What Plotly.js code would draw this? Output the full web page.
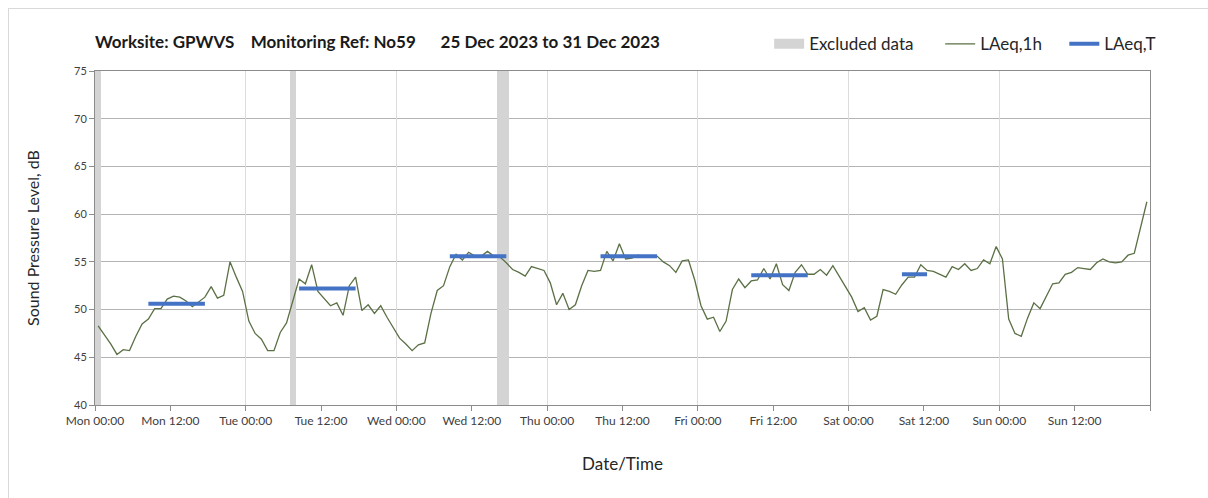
<!DOCTYPE html>
<html>
<head>
<meta charset="utf-8">
<script src="https://cdn.plot.ly/plotly-3.0.1.min.js"></script>
<style>
  html, body { margin: 0; padding: 0; background: #fff; overflow: hidden; }
  #frame { position: absolute; left: 8px; top: 8px; width: 1400px; height: 700px; border: 1px solid #d9d9d9; box-sizing: border-box; }
  #chart { position: absolute; left: 0; top: 0; width: 1208px; height: 498px; }
</style>
</head>
<body>
<div id="frame"></div>
<div id="chart"></div>
<script>
// Hourly LAeq,1h values (dB), one array per day, hour 00 to 23
const mon = [48.3, 47.4, 46.4, 45.3, 45.8, 45.7, 47.2, 48.5, 49.0, 50.1, 50.1, 51.1, 51.4, 51.3, 50.9, 50.3, 50.8, 51.3, 52.4, 51.2, 51.5, 55.0, 53.4, 51.9];
const tue = [48.8, 47.5, 46.9, 45.7, 45.7, 47.6, 48.6, 51.0, 53.2, 52.7, 54.7, 51.9, 51.1, 50.4, 50.7, 49.4, 52.5, 53.4, 49.9, 50.5, 49.6, 50.4, 49.2, 48.1];
const wed = [47.0, 46.4, 45.7, 46.3, 46.5, 49.6, 52.0, 52.5, 54.5, 55.8, 55.2, 56.0, 55.6, 55.6, 56.1, 55.6, 55.5, 54.9, 54.2, 53.9, 53.5, 54.5, 54.3, 54.1];
const thu = [52.8, 50.5, 51.7, 50.0, 50.5, 52.5, 54.1, 54.0, 54.1, 56.1, 55.1, 56.9, 55.3, 55.4, 55.7, 55.5, 55.6, 55.6, 55.0, 54.6, 53.9, 55.1, 55.2, 53.1];
const fri = [50.4, 49.0, 49.2, 47.7, 48.8, 52.1, 53.2, 52.3, 53.0, 53.1, 54.3, 53.2, 54.8, 52.6, 52.0, 53.9, 54.7, 53.7, 53.7, 54.2, 53.6, 54.6, 53.5, 52.4];
const sat = [51.3, 49.8, 50.2, 48.9, 49.3, 52.1, 51.9, 51.6, 52.6, 53.4, 53.4, 54.7, 54.1, 54.0, 53.7, 53.4, 54.5, 54.2, 54.8, 54.1, 54.3, 55.2, 54.8, 56.6];
const sun = [55.3, 49.0, 47.5, 47.2, 49.1, 50.7, 50.1, 51.4, 52.7, 52.8, 53.7, 53.9, 54.4, 54.3, 54.2, 54.9, 55.3, 55.0, 54.9, 55.0, 55.7, 55.9, 58.5, 61.3];

// LAeq,T periods: first and last hour index (hours from Mon 00:00) and level
const periodFirstHour = [8, 32, 56, 80, 104, 128];
const periodLastHour  = [17, 41, 65, 89, 113, 132];
const laeqT = [50.6, 52.2, 55.6, 55.6, 53.6, 53.7];

// Excluded data periods (hours from Mon 00:00)
const excludedStart = [0, 31, 64];
const excludedEnd   = [1, 32, 66];

// Axis ticks
const tickHours  = [0, 12, 24, 36, 48, 60, 72, 84, 96, 108, 120, 132, 144, 156, 168];
const tickLabels = ['Mon 00:00', 'Mon 12:00', 'Tue 00:00', 'Tue 12:00', 'Wed 00:00', 'Wed 12:00',
                    'Thu 00:00', 'Thu 12:00', 'Fri 00:00', 'Fri 12:00', 'Sat 00:00', 'Sat 12:00',
                    'Sun 00:00', 'Sun 12:00', ''];
const dayBoundaries = [24, 48, 72, 96, 120, 144];

const laeq1h = [].concat(mon, tue, wed, thu, fri, sat, sun);
const hourX = laeq1h.map((_, i) => i + 0.5);

const tX = [], tY = [];
periodFirstHour.forEach((s, i) => {
  tX.push(s + 0.5, periodLastHour[i] + 0.5, null);
  tY.push(laeqT[i], laeqT[i], null);
});

const exX = excludedStart.map((s, i) => (s + excludedEnd[i]) / 2);
const exW = excludedStart.map((s, i) => excludedEnd[i] - s);
const exH = excludedStart.map(() => 35);

const FONT = 'Lato, "Open Sans", sans-serif';
const grey = '#8c8c8c';
const NB = '\u00A0';

const traces = [
  { type: 'bar', x: exX, y: exH, base: 40, width: exW,
    marker: { color: '#d4d4d4', line: { width: 0 } }, showlegend: false,
    legendgroup: 'ex', hoverinfo: 'skip' },
  { type: 'scatter', mode: 'lines', x: [null], y: [null], xaxis: 'x2', yaxis: 'y',
    name: 'Excluded data' + NB.repeat(5),
    legendgroup: 'ex', line: { color: '#d4d4d4', width: 10 }, hoverinfo: 'skip' },
  { type: 'scatter', mode: 'lines', x: hourX, y: laeq1h, name: 'LAeq,1h' + NB.repeat(4),
    line: { color: '#5b7045', width: 1.3 } },
  { type: 'scatter', mode: 'lines', x: tX, y: tY, name: 'LAeq,T',
    line: { color: '#4472c4', width: 4 }, connectgaps: false }
];

const layout = {
  width: 1208, height: 498,
  paper_bgcolor: 'rgba(0,0,0,0)', plot_bgcolor: 'rgba(0,0,0,0)',
  margin: { l: 95, r: 58, t: 71, b: 93 },
  font: { family: FONT, color: '#404040' },
  title: {
    text: '<b>Worksite: GPWVS' + NB.repeat(4) + 'Monitoring Ref: No59' + NB.repeat(6) + '25 Dec 2023 to 31 Dec 2023</b>',
    font: { family: FONT, size: 17, color: '#1a1a1a' },
    xref: 'paper', x: 0, xanchor: 'left',
    yref: 'container', y: 1 - 42 / 498, yanchor: 'middle'
  },
  showlegend: true,
  legend: {
    orientation: 'h', x: 0.639, xanchor: 'left', y: 1.08, yanchor: 'middle',
    font: { family: FONT, size: 17, color: '#262626' },
    bgcolor: 'rgba(0,0,0,0)', traceorder: 'normal'
  },
  xaxis: {
    range: [0, 168], tickmode: 'array', tickvals: tickHours, ticktext: tickLabels,
    showgrid: false, zeroline: false, showline: true, linecolor: grey, linewidth: 1,
    mirror: true, ticks: 'outside', ticklen: 5, tickcolor: grey,
    tickfont: { family: FONT, size: 12, color: '#404040' },
    title: { text: 'Date/Time', font: { family: FONT, size: 17, color: '#262626' }, standoff: 30 }
  },
  xaxis2: {
    overlaying: 'x', range: [0, 168], tickmode: 'array', tickvals: dayBoundaries,
    showticklabels: false, ticks: '', showgrid: true, gridcolor: '#dcdcdc', gridwidth: 1,
    zeroline: false, showline: false
  },
  yaxis: {
    range: [40, 75], tickmode: 'linear', tick0: 40, dtick: 5,
    showgrid: true, gridcolor: '#b4b4b4', gridwidth: 1, zeroline: false,
    showline: true, linecolor: grey, linewidth: 1, mirror: true,
    ticks: 'outside', ticklen: 5, tickcolor: grey,
    tickfont: { family: FONT, size: 11, color: '#404040' },
    title: { text: 'Sound Pressure Level, dB', font: { family: FONT, size: 16, color: '#262626' }, standoff: 30 }
  },
  bargap: 0
};

Plotly.newPlot('chart', traces, layout, { displayModeBar: false, staticPlot: true });
</script>
</body>
</html>
